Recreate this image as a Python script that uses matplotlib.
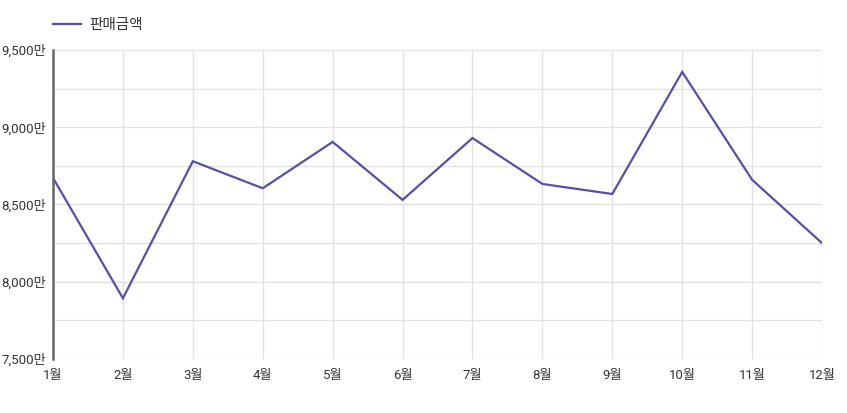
import matplotlib
matplotlib.use("Agg")
import matplotlib.pyplot as plt
from matplotlib.ticker import FuncFormatter, MultipleLocator

plt.rcParams['font.family'] = ['Roboto', 'Noto Sans CJK KR', 'DejaVu Sans']

months = ["1월", "2월", "3월", "4월", "5월", "6월", "7월", "8월", "9월", "10월", "11월", "12월"]
# 판매금액, 단위: 만
sales = [8672, 7893, 8780, 8605, 8905, 8530, 8930, 8633, 8568, 9358, 8660, 8250]

fig = plt.figure(figsize=(8.47, 4.13), dpi=100)
ax = fig.add_axes([0.0626, 0.1308, 0.9079, 0.7481])

x = list(range(len(months)))
ax.plot(x, sales, color='#5451a8', linewidth=1.6, label="판매금액", solid_joinstyle='miter')

ax.set_xlim(0, len(months) - 1)
ax.set_ylim(7500, 9500)
ax.set_xticks(x)
ax.set_xticklabels(months)
ax.yaxis.set_major_locator(MultipleLocator(500))
ax.yaxis.set_minor_locator(MultipleLocator(250))
ax.yaxis.set_major_formatter(FuncFormatter(lambda v, p: f"{int(v):,}만"))

ax.grid(True, which='both', color='#e2e2e2', linewidth=1)
ax.set_axisbelow(True)
for s in ['top', 'right', 'bottom']:
    ax.spines[s].set_visible(False)
ax.spines['left'].set_color('#666666')
ax.spines['left'].set_linewidth(1.8)
ax.spines['left'].set_zorder(3)

ax.tick_params(axis='both', which='both', length=0, labelsize=9.5, colors='#333333')
ax.tick_params(axis='y', pad=5)
ax.tick_params(axis='x', pad=7)

ax.legend(loc='center left', bbox_to_anchor=(0, 1.081), frameon=False, fontsize=10.5,
          handlelength=1.9, handletextpad=0.55, borderpad=0, borderaxespad=0,
          labelcolor='#333333')

fig.savefig("out.png", dpi=100)
